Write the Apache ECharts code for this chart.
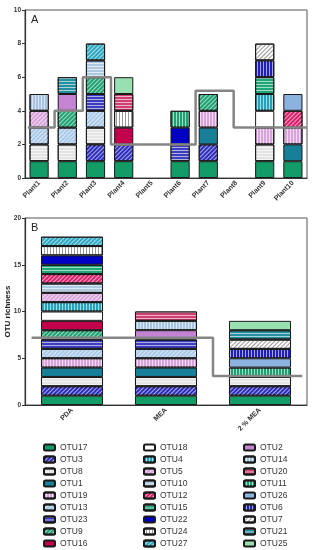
<!DOCTYPE html>
<html><head><meta charset="utf-8">
<script src="https://cdn.jsdelivr.net/npm/echarts@6/dist/echarts.min.js"></script>
<style>html,body{margin:0;padding:0;background:#fff}#c{width:321px;height:550px}</style>
</head><body><div id="c"></div>
<script>
// ---- DATA ----
const otuNames = ['OTU17','OTU3','OTU8','OTU1','OTU19','OTU13','OTU23','OTU9','OTU16',
  'OTU18','OTU4','OTU5','OTU10','OTU12','OTU15','OTU22','OTU24','OTU27',
  'OTU2','OTU14','OTU20','OTU11','OTU26','OTU6','OTU7','OTU21','OTU25'];
const plants = ['Plant1','Plant2','Plant3','Plant4','Plant5','Plant6','Plant7','Plant8','Plant9','Plant10'];
const plantOTUs = [
  ['OTU17','OTU8','OTU13','OTU5','OTU14'],
  ['OTU17','OTU8','OTU13','OTU9','OTU2','OTU21'],
  ['OTU17','OTU3','OTU8','OTU13','OTU23','OTU9','OTU10','OTU27'],
  ['OTU17','OTU3','OTU16','OTU24','OTU20','OTU25'],
  [],
  ['OTU17','OTU23','OTU22','OTU11'],
  ['OTU17','OTU3','OTU1','OTU19','OTU9'],
  [],
  ['OTU17','OTU8','OTU19','OTU18','OTU4','OTU15','OTU6','OTU7'],
  ['OTU17','OTU1','OTU19','OTU12','OTU26']
];
const media = ['PDA','MEA','2 % MEA'];
const mediaOTUs = [
  ['OTU17','OTU3','OTU8','OTU1','OTU19','OTU13','OTU23','OTU9','OTU16','OTU18','OTU4','OTU5','OTU10','OTU12','OTU15','OTU22','OTU24','OTU27'],
  ['OTU17','OTU3','OTU8','OTU1','OTU19','OTU13','OTU23','OTU2','OTU14','OTU20'],
  ['OTU17','OTU3','OTU8','OTU11','OTU26','OTU6','OTU7','OTU21','OTU25']
];
const segmentValue = 1; // each OTU adds one to richness
const stepAx = [-0.4, 0.55, 1.55, 2.55, 5.55, 6.9, 9.5];
const stepAy = [3, 4, 6, 2, 5.2, 3, 3];
const stepBx = [-0.43, 1.5, 2.45];
const stepBy = [7.2, 3.1, 3.1];
const yTicksA = [0, 10, 2];
const yTicksB = [0, 20, 5];

// ---- STYLES ----
const W = 'rgba(255,255,255,0.6)', G = 'rgba(110,110,110,0.7)';
const D = -Math.PI/4, H = 0, V = Math.PI/2;
const styles = {
  OTU17:['#139c68',null], OTU3:['#2d2dbd',[W,D]], OTU8:['#e4e4e4',[W,H]], OTU1:['#177f98',null],
  OTU19:['#d9a3dc',[W,V]], OTU13:['#a9c9e8',[W,D]], OTU23:['#3d3dc0',[W,H]], OTU9:['#1ea271',[W,D]],
  OTU16:['#c2004c',null], OTU18:['#ffffff',null], OTU4:['#24a2ba',[W,V]], OTU5:['#d9a3dc',[W,D]],
  OTU10:['#adc9e2',[W,H]], OTU12:['#df1f6a',[W,D]], OTU15:['#1ea877',[W,H]], OTU22:['#0000c4',null],
  OTU24:['#ffffff',[G,V]], OTU27:['#2ea8c2',[W,D]], OTU2:['#c583d3',null], OTU14:['#a6c3e2',[W,V]],
  OTU20:['#cf3f72',[W,H]], OTU11:['#1ea271',[W,V]], OTU26:['#8cb2de',null], OTU6:['#1f1fc0',[W,V]],
  OTU7:['#ffffff',[G,D]], OTU21:['#268f9f',[W,H]], OTU25:['#98e0b2',null]
};
function itemStyleFor(n){
  const s = styles[n];
  const st = {color:s[0], borderColor:'#1a1a1a', borderWidth:1};
  if (s[1]) st.decal = {symbol:'rect', symbolSize:1, dashArrayX:[1,0], dashArrayY:[1,2], rotation:s[1][1], color:s[1][0]};
  return st;
}

const series = [];
otuNames.forEach(n => {
  series.push({type:'bar', name:n, stack:'a', xAxisIndex:0, yAxisIndex:0, barWidth:'68%',
    itemStyle:itemStyleFor(n), data: plantOTUs.map(l => l.includes(n) ? segmentValue : '-')});
});
otuNames.forEach(n => {
  series.push({type:'bar', name:n, stack:'b', xAxisIndex:2, yAxisIndex:1, barWidth:'66%',
    itemStyle:itemStyleFor(n), data: mediaOTUs.map(l => l.includes(n) ? segmentValue : '-')});
});
series.push({type:'line', name:'stepA', step:'end', xAxisIndex:1, yAxisIndex:0, symbol:'none', z:10,
  lineStyle:{color:'#858585', width:2.5}, data: stepAx.map((x,i)=>[x, stepAy[i]])});
series.push({type:'line', name:'stepB', step:'end', xAxisIndex:3, yAxisIndex:1, symbol:'none', z:10,
  lineStyle:{color:'#858585', width:2.5}, data: stepBx.map((x,i)=>[x, stepBy[i]])});

const axisLbl = {fontSize:6.5, fontWeight:'bold', color:'#333', fontFamily:'Liberation Sans'};
const axLine = {show:true, onZero:false, lineStyle:{color:'#333', width:1.2}};
function catAxis(grid, data){
  return {type:'category', gridIndex:grid, data:data, axisLine:axLine,
    axisTick:{alignWithLabel:true, length:3, lineStyle:{color:'#333'}},
    axisLabel:Object.assign({rotate:45, margin:4, interval:0}, axisLbl, {fontSize:7})};
}
function hiddenVal(grid, max){
  return {type:'value', gridIndex:grid, min:-0.5, max:max, show:false, axisLine:{onZero:false}};
}
function valAxis(grid, t, name){
  const a = {type:'value', gridIndex:grid, min:t[0], max:t[1], interval:t[2], splitLine:{show:false},
    axisLine:axLine, axisTick:{show:true, length:3, lineStyle:{color:'#333'}},
    axisLabel:Object.assign({margin:4}, axisLbl)};
  if (name) Object.assign(a, {name:name, nameLocation:'middle', nameGap:13, nameMoveOverlap:false,
    nameTextStyle:{fontSize:8, fontWeight:'bold', color:'#222', fontFamily:'Liberation Sans'}});
  return a;
}
const legendCommon = {orient:'vertical', itemWidth:11, itemHeight:6, itemGap:3, height:110,
  textStyle:{fontSize:8.5, lineHeight:8, color:'#333', fontFamily:'Liberation Sans'}, padding:0, selectedMode:false};

const option = {
  animation:false,
  grid:[
    {left:25, top:10, width:282, height:168, show:true, borderColor:'#555', borderWidth:1, containLabel:false, outerBoundsMode:'none'},
    {left:25, top:218, width:282, height:187, show:true, borderColor:'#555', borderWidth:1, containLabel:false, outerBoundsMode:'none'}
  ],
  xAxis:[catAxis(0, plants), hiddenVal(0, 9.5), catAxis(1, media), hiddenVal(1, 2.5)],
  yAxis:[valAxis(0, yTicksA, ''), valAxis(1, yTicksB, 'OTU richness')],
  legend:[
    Object.assign({left:43, top:443, data:otuNames.slice(0,9)}, legendCommon),
    Object.assign({left:143, top:443, data:otuNames.slice(9,18)}, legendCommon),
    Object.assign({left:243, top:443, data:otuNames.slice(18,27)}, legendCommon)
  ],
  graphic:[
    {type:'text', left:31, top:14, style:{text:'A', fontSize:11, fill:'#222', fontFamily:'Liberation Sans'}},
    {type:'text', left:31, top:222, style:{text:'B', fontSize:11, fill:'#222', fontFamily:'Liberation Sans'}}
  ],
  series:series
};
echarts.init(document.getElementById('c')).setOption(option);
</script></body></html>
